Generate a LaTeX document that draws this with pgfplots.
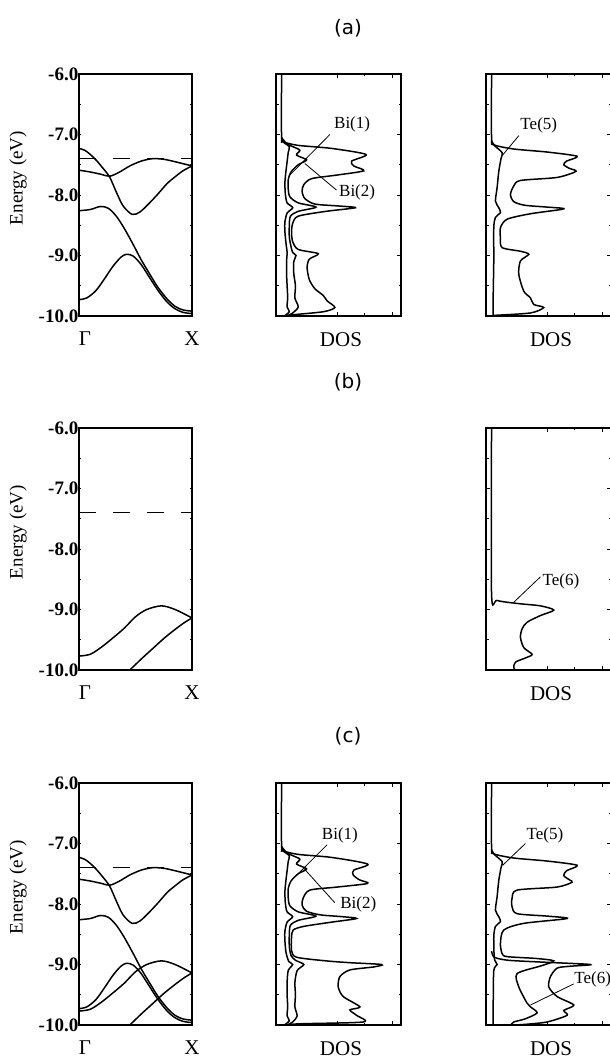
\documentclass[border=0pt]{standalone}
\usepackage{pgfplots}
\pgfplotsset{compat=1.18}
\usepackage{fontspec}
\setmainfont{Liberation Serif}
\newfontfamily\titlefont{DejaVu Sans}
\tikzset{
 fermi/.style={line width=1.4pt, dash pattern=on 17pt off 17pt},
 lab/.style={font=\fontsize{17}{17}\selectfont, inner sep=1pt},
 ptr/.style={line width=0.8pt},
 ttl/.style={font=\titlefont\fontsize{20}{20}\selectfont},
}
\newcommand{\tl}[1]{\mbox{\bfseries #1}}
\pgfplotsset{
 base/.style={scale only axis, height=242pt, ymin=-10, ymax=-6,
   axis line style={line width=1.4pt}, tick style={line width=0.8pt,black},
   tick align=inside, major tick length=4pt, minor tick length=2.5pt,
   /pgf/number format/assume math mode=true,
   every axis plot/.append style={line width=1.5pt, black, no marks}},
 band/.style={base, width=113pt, xmin=0, xmax=1, xtick={0,1},
   xticklabels={\mbox{\hspace{12pt}Γ},\mbox{X}},
   xtick style={draw=none}, xticklabel style={yshift=-12pt, font=\fontsize{21}{21}\selectfont},
   ytick={-10,-9,-8,-7,-6}, yticklabels={\tl{-10.0},\tl{-9.0},\tl{-8.0},\tl{-7.0},\tl{-6.0}},
   yticklabel style={font=\fontsize{19}{19}\selectfont, inner xsep=0.5pt},
   minor y tick num=1, major tick length=2pt, minor tick length=1.5pt,
   ylabel={Energy (eV)}, ylabel style={font=\fontsize{19}{19}\selectfont, at={(axis description cs:-0.54,0.57)}, anchor=center}},
 dos/.style={base, width=125pt, xmin=-0.1, xmax=2.15, xtick={1,2}, xticklabels={},
   minor x tick num=1, ytick={-10,-9,-8,-7,-6}, yticklabels={}, minor y tick num=1,
   xlabel={DOS}, xlabel style={font=\fontsize{21}{21}\selectfont, at={(axis description cs:0.52,0)}, anchor=north, yshift=-13pt}},
}
\begin{document}
\begin{tikzpicture}
% ---------------- row (a) ----------------
\node[ttl] at (348pt,1033pt) {(a)};
\begin{axis}[band, at={(79pt,745pt)}, anchor=south west]
\addplot[smooth] coordinates {(0,-7.23)(0.05,-7.26)(0.1,-7.33)(0.15,-7.42)(0.2,-7.53)(0.27,-7.7)(0.33,-7.95)(0.39,-8.18)(0.47,-8.32)(0.54,-8.28)(0.63,-8.12)(0.7,-7.98)(0.78,-7.81)(0.85,-7.7)(0.92,-7.6)(1,-7.52)};
\addplot[smooth] coordinates {(0,-7.59)(0.1,-7.62)(0.2,-7.66)(0.27,-7.69)(0.35,-7.63)(0.45,-7.52)(0.55,-7.44)(0.65,-7.4)(0.75,-7.41)(0.85,-7.45)(1,-7.52)};
\addplot[smooth] coordinates {(0,-8.26)(0.1,-8.24)(0.19,-8.19)(0.26,-8.22)(0.33,-8.35)(0.4,-8.55)(0.48,-8.82)(0.55,-9.07)(0.63,-9.32)(0.7,-9.53)(0.78,-9.72)(0.85,-9.84)(0.92,-9.9)(1,-9.92)};
\addplot[smooth] coordinates {(0,-9.73)(0.07,-9.7)(0.15,-9.58)(0.22,-9.4)(0.3,-9.18)(0.37,-9.03)(0.42,-8.98)(0.48,-9.01)(0.55,-9.15)(0.63,-9.38)(0.7,-9.58)(0.78,-9.77)(0.85,-9.88)(0.92,-9.94)(1,-9.96)};
\addplot[fermi] coordinates {(0,-7.4)(1,-7.4)};
\end{axis}
\begin{axis}[dos, at={(276pt,745pt)}, anchor=south west]
\addplot[smooth, tension=0.45] coordinates {(0,-6)(0,-7.04)(0.03,-7.12)(0.3,-7.18)(0.9,-7.23)(1.52,-7.33)(1.26,-7.44)(1.3,-7.52)(1.48,-7.6)(1.0,-7.67)(0.54,-7.73)(0.4,-7.83)(0.37,-7.94)(0.42,-8.06)(0.6,-8.15)(1.0,-8.18)(1.33,-8.21)(0.8,-8.27)(0.3,-8.35)(0.2,-8.47)(0.18,-8.62)(0.2,-8.77)(0.3,-8.9)(0.66,-8.97)(0.5,-9.06)(0.46,-9.2)(0.5,-9.4)(0.6,-9.55)(0.75,-9.66)(0.82,-9.75)(0.96,-9.86)(0.75,-9.93)(0.2,-9.98)(0.06,-10)};
\addplot[smooth, tension=0.45] coordinates {(0,-7.05)(0.09,-7.15)(0.2,-7.2)(0.33,-7.26)(0.27,-7.34)(0.45,-7.42)(0.3,-7.5)(0.17,-7.62)(0.12,-7.75)(0.12,-7.9)(0.15,-8.03)(0.3,-8.13)(0.62,-8.2)(0.3,-8.27)(0.16,-8.35)(0.14,-8.5)(0.14,-8.7)(0.17,-8.85)(0.2,-8.95)(0.26,-9.0)(0.22,-9.1)(0.22,-9.3)(0.25,-9.5)(0.24,-9.7)(0.3,-9.85)(0.2,-9.95)(0.1,-10)};
\addplot[smooth, tension=0.45] coordinates {(0,-7.05)(0.05,-7.14)(0.14,-7.2)(0.12,-7.3)(0.1,-7.45)(0.08,-7.6)(0.06,-7.8)(0.07,-8.0)(0.1,-8.13)(0.2,-8.21)(0.1,-8.3)(0.06,-8.45)(0.06,-8.6)(0.08,-8.8)(0.1,-8.95)(0.09,-9.1)(0.09,-9.3)(0.1,-9.5)(0.11,-9.7)(0.1,-9.85)(0.14,-9.93)(0.05,-10)};
\draw[ptr] (axis cs:0.87,-7.0) -- (axis cs:0.15,-7.67);
\draw[ptr] (axis cs:0.99,-7.92) -- (axis cs:0.42,-7.48);
\node[lab] at (axis cs:1.27,-6.84) {Bi(1)};
\node[lab] at (axis cs:1.36,-7.95) {Bi(2)};
\end{axis}
\begin{axis}[dos, at={(486pt,745pt)}, anchor=south west]
\addplot[smooth, tension=0.45] coordinates {(0,-6)(0,-7.06)(0.04,-7.17)(0.4,-7.24)(1.0,-7.29)(1.54,-7.36)(1.35,-7.44)(1.3,-7.5)(1.4,-7.56)(1.52,-7.61)(1.18,-7.71)(0.52,-7.76)(0.4,-7.85)(0.34,-7.99)(0.4,-8.11)(0.6,-8.17)(1.0,-8.2)(1.3,-8.23)(0.7,-8.31)(0.28,-8.4)(0.16,-8.54)(0.16,-8.71)(0.19,-8.87)(0.52,-8.93)(0.67,-8.98)(0.52,-9.09)(0.49,-9.31)(0.58,-9.59)(0.70,-9.70)(0.76,-9.81)(0.94,-9.86)(0.70,-9.95)(0.04,-9.99)};
\addplot[smooth, tension=0.45] coordinates {(0,-7.1)(0.05,-7.18)(0.19,-7.3)(0.17,-7.4)(0.13,-7.61)(0.1,-7.88)(0.07,-8.1)(0.13,-8.21)(0.16,-8.29)(0.07,-8.37)(0.04,-8.54)(0.04,-9.09)(0.03,-9.64)(0.03,-9.97)(0.02,-10)};
\draw[ptr] (axis cs:0.49,-7.02) -- (axis cs:0.2,-7.34);
\node[lab] at (axis cs:0.85,-6.85) {Te(5)};
\end{axis}
% ---------------- row (b) ----------------
\node[ttl] at (348pt,679pt) {(b)};
\begin{axis}[band, at={(79pt,391pt)}, anchor=south west]
\addplot[smooth] coordinates {(0,-9.77)(0.1,-9.74)(0.2,-9.62)(0.3,-9.47)(0.4,-9.31)(0.5,-9.12)(0.6,-9.0)(0.73,-8.94)(0.85,-9.0)(1,-9.14)};
\addplot[smooth] coordinates {(0.4,-10.09)(0.45,-10.0)(0.55,-9.82)(0.65,-9.65)(0.75,-9.48)(0.85,-9.33)(0.93,-9.22)(1,-9.14)};
\addplot[fermi] coordinates {(0,-7.4)(1,-7.4)};
\end{axis}
\begin{axis}[dos, at={(486pt,391pt)}, anchor=south west]
\addplot[smooth, tension=0.45] coordinates {(0,-6)(0,-8.74)(0.1,-8.85)(0.46,-8.9)(0.88,-8.94)(1.12,-9.01)(0.88,-9.1)(0.64,-9.21)(0.55,-9.32)(0.52,-9.46)(0.58,-9.63)(0.73,-9.74)(0.64,-9.79)(0.43,-9.87)(0.4,-9.96)(0.43,-10)};
\draw[ptr] (axis cs:0.88,-8.46) -- (axis cs:0.40,-8.88);
\node[lab] at (axis cs:1.25,-8.53) {Te(6)};
\end{axis}
% ---------------- row (c) ----------------
\node[ttl] at (348pt,325pt) {(c)};
\begin{axis}[band, at={(79pt,36pt)}, anchor=south west]
\addplot[smooth] coordinates {(0,-7.23)(0.05,-7.26)(0.1,-7.33)(0.15,-7.42)(0.2,-7.53)(0.27,-7.7)(0.33,-7.95)(0.39,-8.18)(0.47,-8.32)(0.54,-8.28)(0.63,-8.12)(0.7,-7.98)(0.78,-7.81)(0.85,-7.7)(0.92,-7.6)(1,-7.52)};
\addplot[smooth] coordinates {(0,-7.59)(0.1,-7.62)(0.2,-7.66)(0.27,-7.69)(0.35,-7.63)(0.45,-7.52)(0.55,-7.44)(0.65,-7.4)(0.75,-7.41)(0.85,-7.45)(1,-7.52)};
\addplot[smooth] coordinates {(0,-8.26)(0.1,-8.24)(0.19,-8.19)(0.26,-8.22)(0.33,-8.35)(0.4,-8.55)(0.48,-8.82)(0.55,-9.07)(0.63,-9.32)(0.7,-9.53)(0.78,-9.72)(0.85,-9.84)(0.92,-9.9)(1,-9.92)};
\addplot[smooth] coordinates {(0,-9.73)(0.07,-9.7)(0.15,-9.58)(0.22,-9.4)(0.3,-9.18)(0.37,-9.03)(0.42,-8.98)(0.48,-9.01)(0.55,-9.15)(0.63,-9.38)(0.7,-9.58)(0.78,-9.77)(0.85,-9.88)(0.92,-9.94)(1,-9.96)};
\addplot[smooth] coordinates {(0,-9.77)(0.1,-9.74)(0.2,-9.62)(0.3,-9.47)(0.4,-9.31)(0.5,-9.12)(0.6,-9.0)(0.73,-8.94)(0.85,-9.0)(1,-9.14)};
\addplot[smooth] coordinates {(0.4,-10.09)(0.45,-10.0)(0.55,-9.82)(0.65,-9.65)(0.75,-9.48)(0.85,-9.33)(0.93,-9.22)(1,-9.14)};
\addplot[fermi] coordinates {(0,-7.4)(1,-7.4)};
\end{axis}
\begin{axis}[dos, at={(276pt,36pt)}, anchor=south west]
\addplot[smooth, tension=0.45] coordinates {(0,-6)(0,-7.04)(0.03,-7.12)(0.3,-7.18)(0.9,-7.23)(1.55,-7.34)(1.3,-7.44)(1.29,-7.52)(1.4,-7.6)(1.55,-7.66)(1.0,-7.72)(0.51,-7.77)(0.39,-7.9)(0.37,-8.02)(0.45,-8.12)(0.7,-8.18)(1.1,-8.21)(1.35,-8.24)(0.9,-8.3)(0.4,-8.37)(0.21,-8.43)(0.18,-8.55)(0.18,-8.77)(0.27,-8.88)(0.8,-8.94)(1.23,-8.97)(1.8,-9.0)(1.66,-9.04)(1.23,-9.09)(1.05,-9.2)(1.02,-9.37)(1.11,-9.53)(1.41,-9.70)(1.23,-9.75)(1.35,-9.84)(1.47,-9.95)(0.33,-9.98)(0.09,-10)};
\addplot[smooth, tension=0.45] coordinates {(0,-7.05)(0.09,-7.15)(0.2,-7.2)(0.33,-7.26)(0.27,-7.34)(0.45,-7.42)(0.3,-7.5)(0.17,-7.62)(0.12,-7.75)(0.12,-7.9)(0.15,-8.03)(0.3,-8.13)(0.62,-8.2)(0.3,-8.27)(0.16,-8.35)(0.14,-8.5)(0.14,-8.7)(0.17,-8.85)(0.25,-8.93)(0.4,-9.0)(0.28,-9.1)(0.24,-9.3)(0.25,-9.5)(0.24,-9.7)(0.28,-9.85)(0.2,-9.95)(0.1,-10)};
\addplot[smooth, tension=0.45] coordinates {(0,-7.05)(0.05,-7.14)(0.14,-7.2)(0.12,-7.3)(0.1,-7.45)(0.08,-7.6)(0.06,-7.8)(0.07,-8.0)(0.1,-8.13)(0.2,-8.21)(0.1,-8.3)(0.06,-8.45)(0.06,-8.6)(0.08,-8.8)(0.13,-8.95)(0.2,-9.0)(0.12,-9.1)(0.1,-9.3)(0.1,-9.5)(0.11,-9.7)(0.1,-9.85)(0.14,-9.93)(0.05,-10)};
\draw[ptr] (axis cs:0.82,-7.02) -- (axis cs:0.3,-7.5);
\draw[ptr] (axis cs:0.96,-7.98) -- (axis cs:0.39,-7.4);
\node[lab] at (axis cs:1.05,-6.87) {Bi(1)};
\node[lab] at (axis cs:1.38,-8.0) {Bi(2)};
\end{axis}
\begin{axis}[dos, at={(486pt,36pt)}, anchor=south west]
\addplot[smooth, tension=0.45] coordinates {(0,-6)(0,-7.06)(0.04,-7.17)(0.4,-7.24)(1.0,-7.29)(1.54,-7.36)(1.35,-7.45)(1.3,-7.53)(1.4,-7.6)(1.45,-7.64)(1.18,-7.72)(0.46,-7.77)(0.37,-7.9)(0.37,-8.05)(0.46,-8.16)(1.0,-8.2)(1.36,-8.24)(0.58,-8.32)(0.22,-8.43)(0.16,-8.65)(0.19,-8.82)(0.28,-8.87)(0.8,-8.9)(1.12,-8.94)(0.9,-9.02)(0.46,-9.15)(0.49,-9.37)(0.64,-9.64)(0.7,-9.7)(0.82,-9.8)(0.6,-9.9)(0.4,-9.95)(0.35,-10)};
\addplot[smooth, tension=0.45] coordinates {(0,-7.1)(0.05,-7.18)(0.19,-7.3)(0.17,-7.4)(0.13,-7.61)(0.1,-7.88)(0.07,-8.1)(0.13,-8.21)(0.16,-8.29)(0.07,-8.37)(0.04,-8.54)(0.05,-8.9)(0.1,-9.0)(0.04,-9.1)(0.03,-9.64)(0.03,-9.97)(0.02,-10)};
\addplot[smooth, tension=0.45] coordinates {(0,-8.78)(0.05,-8.88)(0.3,-8.93)(0.9,-8.96)(1.78,-9.0)(1.4,-9.03)(1.18,-9.06)(1.06,-9.2)(1.03,-9.37)(1.18,-9.53)(1.48,-9.67)(1.3,-9.76)(1.36,-9.84)(1.0,-9.95)(0.6,-9.99)(0.4,-10)};
\draw[ptr] (axis cs:0.61,-7.0) -- (axis cs:0.2,-7.36);
\draw[ptr] (axis cs:1.48,-9.32) -- (axis cs:0.70,-9.67);
\node[lab] at (axis cs:0.96,-6.86) {Te(5)};
\node[lab] at (axis cs:1.82,-9.24) {Te(6)};
\end{axis}
\pgfresetboundingbox
\useasboundingbox (0,0) rectangle (610pt,1061pt);
\end{tikzpicture}
\end{document}
